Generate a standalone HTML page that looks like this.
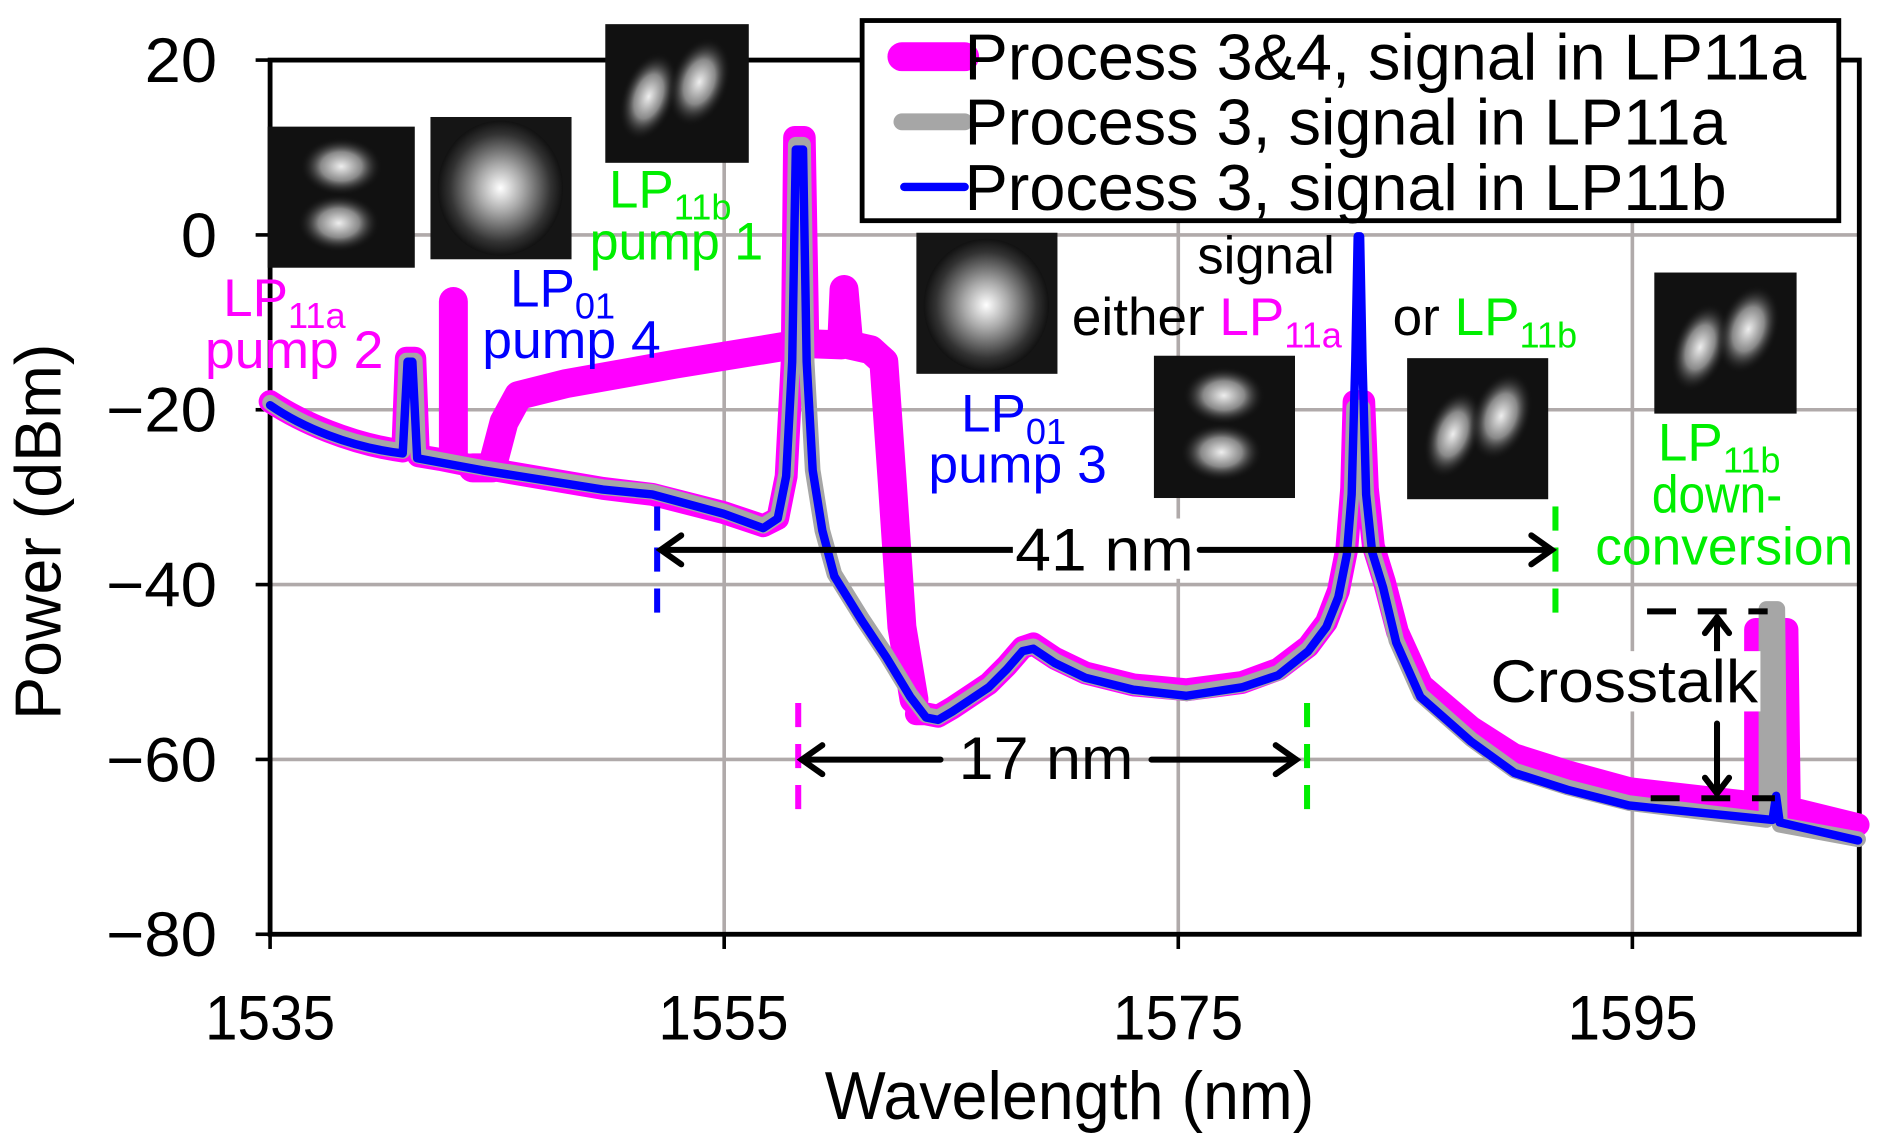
<!DOCTYPE html>
<html><head><meta charset="utf-8"><style>
html,body{margin:0;padding:0;background:#fff;}
svg{display:block;}
text{font-family:"Liberation Sans",Arial,sans-serif;}
</style></head><body>
<svg width="1881" height="1140" viewBox="0 0 1560 945.4" xmlns="http://www.w3.org/2000/svg">
<defs>
<radialGradient id="g1" cx="50%" cy="50%" r="50%"><stop offset="0" stop-color="#fff"/><stop offset="0.35" stop-color="#aaa"/><stop offset="0.8" stop-color="#333"/><stop offset="1" stop-color="#111"/></radialGradient>
<radialGradient id="lobe" cx="50%" cy="50%" r="50%"><stop offset="0" stop-color="#eee"/><stop offset="0.5" stop-color="#888"/><stop offset="1" stop-color="#111" stop-opacity="0"/></radialGradient>
</defs>
<g stroke="#b0aaaa" stroke-width="3">
<line x1="224" y1="194.8" x2="1542" y2="194.8"/>
<line x1="224" y1="339.8" x2="1542" y2="339.8"/>
<line x1="224" y1="484.8" x2="1542" y2="484.8"/>
<line x1="224" y1="629.8" x2="1542" y2="629.8"/>
<line x1="600.6" y1="49.8" x2="600.6" y2="774.8"/>
<line x1="977.2" y1="49.8" x2="977.2" y2="774.8"/>
<line x1="1353.8" y1="49.8" x2="1353.8" y2="774.8"/>
</g>
<rect x="224" y="49.8" width="1318" height="725" fill="none" stroke="#000" stroke-width="4"/>
<g stroke="#000" stroke-width="3">
<line x1="212" y1="49.8" x2="224" y2="49.8"/><line x1="212" y1="194.8" x2="224" y2="194.8"/>
<line x1="212" y1="339.8" x2="224" y2="339.8"/><line x1="212" y1="484.8" x2="224" y2="484.8"/>
<line x1="212" y1="629.8" x2="224" y2="629.8"/><line x1="212" y1="774.8" x2="224" y2="774.8"/>
<line x1="224" y1="775" x2="224" y2="787"/><line x1="600.6" y1="775" x2="600.6" y2="787"/>
<line x1="977.2" y1="775" x2="977.2" y2="787"/><line x1="1353.8" y1="775" x2="1353.8" y2="787"/>
</g>
<g font-size="52" text-anchor="end" fill="#000">
<text x="180" y="68" textLength="60" lengthAdjust="spacingAndGlyphs">20</text>
<text x="180" y="213" textLength="30" lengthAdjust="spacingAndGlyphs">0</text>
<text x="180" y="358" textLength="92" lengthAdjust="spacingAndGlyphs">−20</text>
<text x="180" y="503" textLength="92" lengthAdjust="spacingAndGlyphs">−40</text>
<text x="180" y="648" textLength="92" lengthAdjust="spacingAndGlyphs">−60</text>
<text x="180" y="793" textLength="92" lengthAdjust="spacingAndGlyphs">−80</text>
</g>
<g font-size="52">
<text x="170" y="862" textLength="108" lengthAdjust="spacingAndGlyphs">1535</text>
<text x="546" y="862" textLength="108" lengthAdjust="spacingAndGlyphs">1555</text>
<text x="923" y="862" textLength="108" lengthAdjust="spacingAndGlyphs">1575</text>
<text x="1300" y="862" textLength="108" lengthAdjust="spacingAndGlyphs">1595</text>
<text x="684" y="928" font-size="56" textLength="406" lengthAdjust="spacingAndGlyphs">Wavelength (nm)</text>
<text transform="translate(50,597) rotate(-90)" font-size="54" textLength="312" lengthAdjust="spacingAndGlyphs">Power (dBm)</text>
</g>
<g>
<rect x="222" y="105" width="122" height="117" fill="#111"/>
<ellipse cx="283" cy="138" rx="34" ry="24" fill="url(#lobe)"/><ellipse cx="281" cy="185" rx="34" ry="24" fill="url(#lobe)"/>
<rect x="357" y="97" width="117" height="118" fill="#151515"/>
<ellipse cx="415" cy="156" rx="52" ry="56" fill="url(#g1)"/>
<rect x="502" y="20" width="119" height="115" fill="#111"/>
<ellipse cx="538" cy="80" rx="22" ry="38" fill="url(#lobe)" transform="rotate(20 538 80)"/><ellipse cx="580" cy="68" rx="24" ry="38" fill="url(#lobe)" transform="rotate(20 580 68)"/>
<rect x="760" y="193" width="117" height="117" fill="#151515"/>
<ellipse cx="818" cy="253" rx="52" ry="55" fill="url(#g1)"/>
<rect x="957" y="295" width="117" height="118" fill="#111"/>
<ellipse cx="1015" cy="328" rx="34" ry="24" fill="url(#lobe)"/><ellipse cx="1013" cy="375" rx="34" ry="24" fill="url(#lobe)"/>
<rect x="1167" y="297" width="117" height="117" fill="#111"/>
<ellipse cx="1205" cy="360" rx="22" ry="38" fill="url(#lobe)" transform="rotate(20 1205 360)"/><ellipse cx="1245" cy="345" rx="24" ry="38" fill="url(#lobe)" transform="rotate(20 1245 345)"/>
<rect x="1372" y="226" width="118" height="117" fill="#111"/>
<ellipse cx="1410" cy="288" rx="22" ry="38" fill="url(#lobe)" transform="rotate(20 1410 288)"/><ellipse cx="1450" cy="273" rx="24" ry="38" fill="url(#lobe)" transform="rotate(20 1450 273)"/>
</g>
<g fill="none" stroke="#ff00ff" stroke-linejoin="round" stroke-linecap="round">
<path stroke-width="19" d="M224,333 C250,350 290,368 334,374 L337,297 L344,297 L347,378 L365,381 L400,388 L500,405 L541,410 L600,425 L633,436 L645,430 L652,395 L657,300 L659,114 L667,114 L670,285 M760,592 L768,592 L778,594 L790,587 L805,577 L820,567 L835,552 L848,537 L857,534 L875,546 L900,558 L940,568 L984,572 L1030,566 L1060,555 L1085,536 L1100,516 L1110,490 L1117,455 L1121,405 L1123,333 L1131,333 L1134,405 L1139,453 L1148,482 L1159,524 L1179,568 L1220,603 L1256,626 L1300,640 L1351,654 L1456,666 L1456,522 L1482,522 L1484,670 L1541,684"/>
<path stroke-width="24" d="M376,250 L376,378 M392,388 L408,388 L418,350 L430,328 L470,318 L560,302 L652,287 M670,285 L698,286 L700,240 L704,286 L722,290 L733,300 L740,400 L748,520 L758,580"/>
</g>
<g fill="none" stroke="#a6a6a6" stroke-width="13" stroke-linejoin="round" stroke-linecap="round">
<path d="M224,334 C250,352 290,369 334,374 L337,299 L344,299 L347,378 L400,388 L500,404 L541,408 L600,424 L633,436 L645,428 L652,393 L657,300 L660,120 L666,120 L669,300 L674,390 L682,440 L692,476 L715,513 L735,543 L755,576 L768,593 L778,595 L790,588 L805,578 L820,568 L835,553 L848,538 L857,536 L875,548 L900,560 L940,570 L984,575 L1030,568 L1060,558 L1085,538 L1100,518 L1110,493 L1117,458 L1121,408 L1123,338 L1130,338 L1133,408 L1138,456 L1147,485 L1158,531 L1178,576 L1220,613 L1256,639 L1300,653 L1351,666 L1465,680 L1465,505 L1474,505 L1476,684 L1541,696"/>
</g>
<g fill="none" stroke="#0000ff" stroke-width="7" stroke-linejoin="round" stroke-linecap="round">
<path d="M224,336 C250,354 290,371 334,376 L338,300 L342,300 L346,380 L400,390 L500,406 L541,410 L600,426 L633,438 L645,430 L652,395 L657,300 L660,124 L666,124 L669,300 L674,390 L682,440 L692,478 L715,515 L735,545 L755,578 L768,595 L778,597 L790,590 L805,580 L820,570 L835,555 L848,540 L857,538 L875,550 L900,562 L940,572 L984,577 L1030,570 L1060,560 L1085,540 L1100,520 L1110,495 L1117,460 L1121,410 L1124,300 L1126,196 L1128,196 L1130,300 L1133,410 L1138,458 L1147,487 L1158,533 L1178,578 L1220,615 L1256,641 L1300,655 L1351,668 L1470,680 L1473,660 L1476,682 L1541,697"/>
</g>
<g stroke-width="5">
<line x1="545" y1="420" x2="545" y2="520" stroke="#0000ff" stroke-dasharray="20,14"/>
<line x1="1290" y1="420" x2="1290" y2="520" stroke="#00ee00" stroke-dasharray="20,14"/>
<line x1="662" y1="583" x2="662" y2="680" stroke="#ff00ff" stroke-dasharray="20,14"/>
<line x1="1084" y1="583" x2="1084" y2="680" stroke="#00ee00" stroke-dasharray="20,14"/>
<g stroke="#000" fill="none" stroke-linecap="round">
<line x1="548" y1="456" x2="840" y2="456"/><line x1="995" y1="456" x2="1287" y2="456"/>
<polyline points="565,444 548,456 565,468"/><polyline points="1270,444 1287,456 1270,468"/>
<line x1="665" y1="630" x2="780" y2="630"/><line x1="955" y1="630" x2="1075" y2="630"/>
<polyline points="682,618 665,630 682,642"/><polyline points="1058,618 1075,630 1058,642"/>
<line x1="1366" y1="507" x2="1466" y2="507" stroke-dasharray="24,18" stroke-linecap="butt"/>
<line x1="1369" y1="662" x2="1472" y2="662" stroke-dasharray="24,18" stroke-linecap="butt"/>
<line x1="1424" y1="512" x2="1424" y2="550"/><polyline points="1414,525 1424,512 1434,525"/>
<line x1="1424" y1="600" x2="1424" y2="658"/><polyline points="1414,645 1424,658 1434,645"/>
</g>
</g>
<g font-size="50">
<rect x="840" y="430" width="152" height="50" fill="#fff"/>
<text x="842" y="473" textLength="148" lengthAdjust="spacingAndGlyphs">41 nm</text>
<text x="795" y="646" textLength="145" lengthAdjust="spacingAndGlyphs">17 nm</text>
<rect x="1234" y="540" width="226" height="50" fill="#fff"/>
<text x="1236" y="582" textLength="222" lengthAdjust="spacingAndGlyphs">Crosstalk</text>
<text x="993" y="227" font-size="44" textLength="114" lengthAdjust="spacingAndGlyphs">signal</text>
<text x="889" y="278" font-size="44">either <tspan fill="#ff00ff">LP</tspan><tspan fill="#ff00ff" font-size="30" dy="10">11a</tspan></text>
<text x="1155" y="278" font-size="44">or <tspan fill="#00ee00">LP</tspan><tspan fill="#00ee00" font-size="30" dy="10">11b</tspan></text>
</g>
<g font-size="44">
<text x="185" y="262" fill="#ff00ff">LP<tspan font-size="30" dy="10">11a</tspan></text>
<text x="170" y="305" fill="#ff00ff" textLength="148" lengthAdjust="spacingAndGlyphs">pump 2</text>
<text x="423" y="254" fill="#0000ff">LP<tspan font-size="30" dy="10">01</tspan></text>
<text x="400" y="297" fill="#0000ff" textLength="148" lengthAdjust="spacingAndGlyphs">pump 4</text>
<text x="505" y="172" fill="#00ee00">LP<tspan font-size="30" dy="10">11b</tspan></text>
<text x="489" y="215" fill="#00ee00" textLength="144" lengthAdjust="spacingAndGlyphs">pump 1</text>
<text x="797" y="358" fill="#0000ff">LP<tspan font-size="30" dy="10">01</tspan></text>
<text x="770" y="400" fill="#0000ff" textLength="148" lengthAdjust="spacingAndGlyphs">pump 3</text>
<text x="1375" y="382" fill="#00ee00">LP<tspan font-size="30" dy="10">11b</tspan></text>
<text x="1370" y="425" fill="#00ee00" textLength="108" lengthAdjust="spacingAndGlyphs">down-</text>
<text x="1323" y="468" fill="#00ee00" textLength="214" lengthAdjust="spacingAndGlyphs">conversion</text>
</g>
<rect x="715" y="17" width="810" height="166" fill="#fff" stroke="#000" stroke-width="4"/>
<line x1="748" y1="47" x2="800" y2="47" stroke="#ff00ff" stroke-width="24" stroke-linecap="round"/>
<line x1="748" y1="101" x2="800" y2="101" stroke="#a6a6a6" stroke-width="14" stroke-linecap="round"/>
<line x1="750" y1="155" x2="800" y2="155" stroke="#0000ff" stroke-width="7" stroke-linecap="round"/>
<g font-size="54">
<text x="800" y="66" textLength="698" lengthAdjust="spacingAndGlyphs">Process 3&amp;4, signal in LP11a</text>
<text x="800" y="120" textLength="632" lengthAdjust="spacingAndGlyphs">Process 3, signal in LP11a</text>
<text x="800" y="174" textLength="632" lengthAdjust="spacingAndGlyphs">Process 3, signal in LP11b</text>
</g>
</svg>
</body></html>
